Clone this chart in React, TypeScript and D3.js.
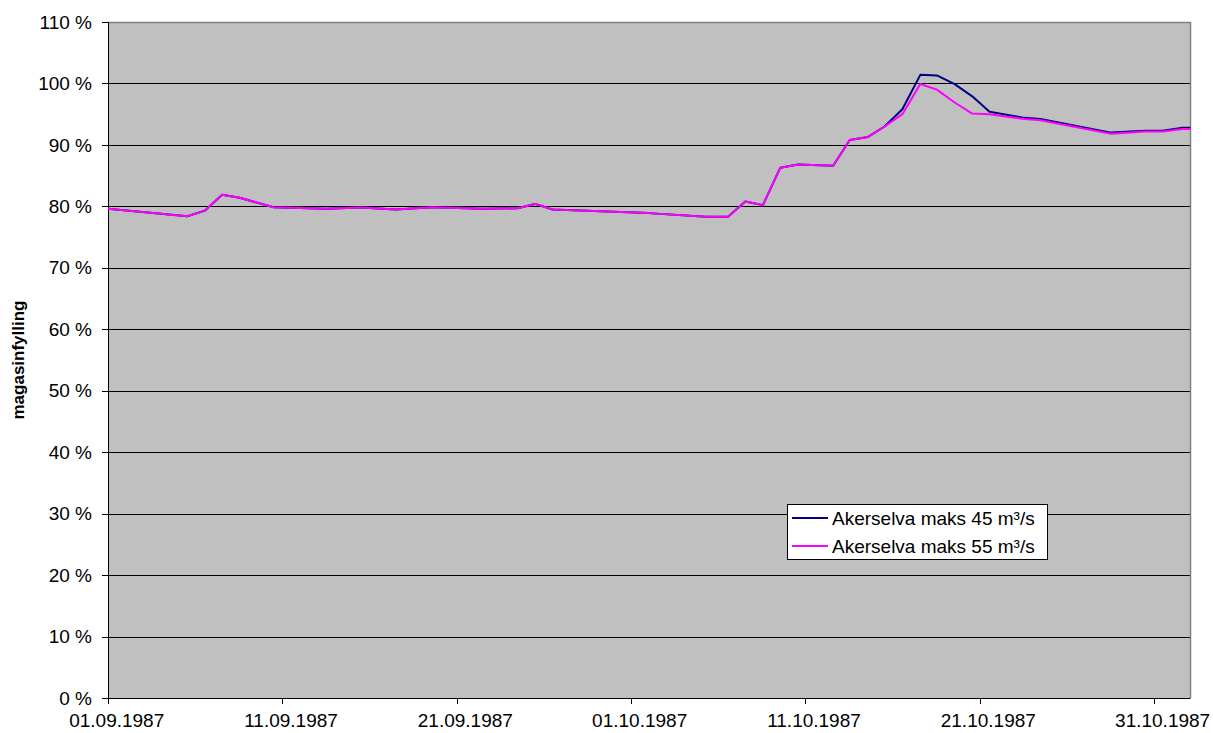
import React from "react";
import * as d3 from "d3";

// day offsets from 01.09.1987
const days = [0, 4.55, 5.55, 6.55, 7.55, 9.5, 12.5, 14.5, 16.5, 18.6, 21.5, 23.5, 24.5, 25.5, 27.5, 31, 34.3, 35.57, 36.56, 37.57, 38.57, 39.58, 41.6, 42.55, 43.6, 44.55, 45.57, 46.6, 47.55, 48.57, 49.58, 50.57, 52.58, 53.5, 54.6, 57.55, 59.5, 60.5, 61.65, 62.1];
const maks45 = [79.6, 78.4, 79.3, 81.9, 81.4, 79.85, 79.6, 79.8, 79.5, 79.85, 79.6, 79.7, 80.4, 79.5, 79.3, 78.9, 78.3, 78.3, 80.8, 80.2, 86.3, 86.8, 86.6, 90.8, 91.3, 93.0, 95.8, 101.4, 101.3, 99.9, 97.9, 95.4, 94.4, 94.2, 93.6, 92.0, 92.3, 92.3, 92.8, 92.8];
const maks55 = [79.6, 78.4, 79.3, 81.9, 81.4, 79.85, 79.6, 79.8, 79.5, 79.85, 79.6, 79.7, 80.4, 79.5, 79.3, 78.9, 78.3, 78.3, 80.8, 80.2, 86.3, 86.8, 86.6, 90.8, 91.3, 93.0, 95.0, 99.9, 99.0, 96.9, 95.1, 95.0, 94.2, 94.0, 93.4, 91.8, 92.2, 92.2, 92.6, 92.6];
const seriesNames = ["Akerselva maks 45 m³/s", "Akerselva maks 55 m³/s"];
const seriesColors = ["#000080", "#ff00ff"];
const yTicks = [0, 10, 20, 30, 40, 50, 60, 70, 80, 90, 100, 110];
const xTickDays = [0, 10, 20, 30, 40, 50, 60];
const xTickLabels = ["01.09.1987", "11.09.1987", "21.09.1987", "01.10.1987", "11.10.1987", "21.10.1987", "31.10.1987"];
const yTitle = "magasinfylling";

export default function App() {
  const W = 1213, H = 733;
  const left = 108, right = 1190.5, top = 22, bottom = 698;
  const x = d3.scaleLinear().domain([0, 62.1]).range([left, right]);
  const y = d3.scaleLinear().domain([0, 110]).range([bottom, top]);
  const font = "'Liberation Sans', Arial, sans-serif";
  const fs = 19;
  const line = (vals: number[]) =>
    d3.line<number>().x((_, i) => x(days[i])).y((v) => y(v))(vals) || "";
  const series = [maks45, maks55];
  const lx = 787, ly = 504, lw = 260, lh = 55;
  return (
    <svg width={W} height={H} style={{ position: "absolute", left: 0, top: 0, background: "#fff" }} fontFamily={font}>
      <rect x={left} y={top} width={right - left} height={bottom - top} fill="#c0c0c0" />
      {yTicks.filter((t) => t > 0 && t < 110).map((t) => (
        <line key={t} x1={left} x2={right} y1={Math.round(y(t)) + 0.5} y2={Math.round(y(t)) + 0.5} stroke="#000" strokeWidth={1} />
      ))}
      <line x1={left} x2={right} y1={top + 0.5} y2={top + 0.5} stroke="#808080" strokeWidth={1.5} />
      <line x1={right} x2={right} y1={top} y2={bottom} stroke="#808080" strokeWidth={1.5} />
      <line x1={left + 0.5} x2={left + 0.5} y1={top} y2={bottom} stroke="#000" strokeWidth={1} />
      <line x1={left} x2={right} y1={bottom + 0.5} y2={bottom + 0.5} stroke="#000" strokeWidth={1} />
      {yTicks.map((t) => (
        <g key={t}>
          <line x1={left - 6} x2={left} y1={Math.round(y(t)) + 0.5} y2={Math.round(y(t)) + 0.5} stroke="#000" />
          <text x={left - 16} y={y(t)} dy="0.35em" textAnchor="end" fontSize={fs} fill="#000">{`${t} %`}</text>
        </g>
      ))}
      {xTickDays.map((d, i) => (
        <g key={d}>
          <line x1={Math.round(x(d)) + 0.5} x2={Math.round(x(d)) + 0.5} y1={bottom} y2={bottom + 6} stroke="#000" />
          <text x={x(d + 0.5)} y={727} textAnchor="middle" fontSize={fs} fill="#000">{xTickLabels[i]}</text>
        </g>
      ))}
      <text transform={`translate(24,${(top + bottom) / 2}) rotate(-90)`} textAnchor="middle" fontSize={17} fontWeight="bold" fill="#000">{yTitle}</text>
      {series.map((s, i) => (
        <path key={i} d={line(s)} fill="none" stroke={seriesColors[i]} strokeWidth={2} strokeLinejoin="round" />
      ))}
      <rect x={lx + 0.5} y={ly + 0.5} width={lw} height={lh} fill="#fff" stroke="#000" strokeWidth={1} />
      {seriesNames.map((n, i) => (
        <g key={n}>
          <line x1={lx + 5} x2={lx + 41} y1={ly + 14 + i * 28} y2={ly + 14 + i * 28} stroke={seriesColors[i]} strokeWidth={2} />
          <text x={lx + 45} y={ly + 14 + i * 28} dy="0.35em" fontSize={fs} fill="#000">{n}</text>
        </g>
      ))}
    </svg>
  );
}
